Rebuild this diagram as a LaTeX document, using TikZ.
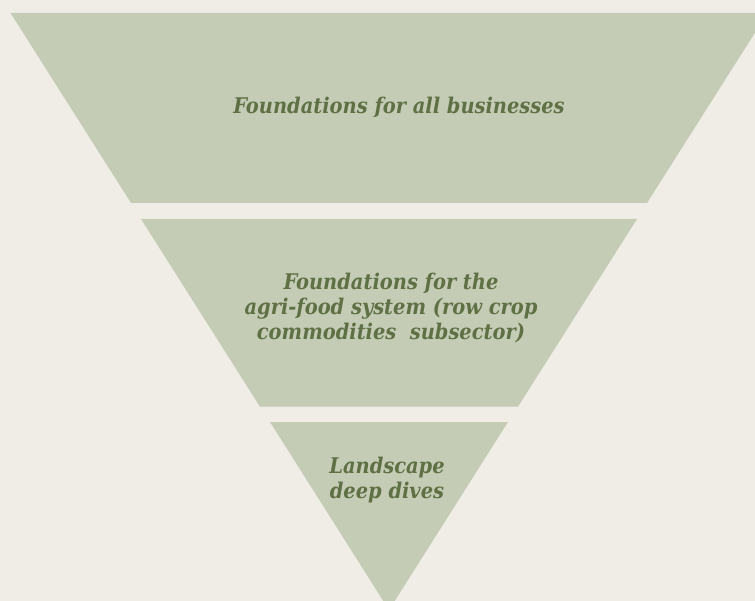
\documentclass[tikz,border=0pt]{standalone}
\usepackage{fontspec}
\setmainfont{DejaVu Serif Condensed}
\definecolor{bgc}{HTML}{F0EDE7}
\definecolor{bandc}{HTML}{C4CCB6}
\definecolor{txtc}{HTML}{5F7045}
\tikzset{
  band/.style={fill=bandc, draw=none},
  label/.style={text=txtc, font=\fontsize{21.6}{25}\selectfont\bfseries\itshape, align=center, inner sep=0pt}
}
\begin{document}
\begin{tikzpicture}[x=1pt,y=-1pt]
\useasboundingbox (0,0) rectangle (755,601);
\fill[bgc] (0,0) rectangle (755,601);
\clip (0,0) rectangle (755,601);
\coordinate (apex) at (389,610);
% top band
\path[band] (10.5,13) -- (767.5,13) -- (647,203) -- (131,203) -- cycle;
% middle band
\path[band] (141,219) -- (637,219) -- (518,406.7) -- (260,406.7) -- cycle;
% bottom band
\path[band] (270,422) -- (508,422) -- (apex) -- cycle;
\node[label, anchor=base] (t1) at (399,114) {Foundations for all businesses};
\node[label, anchor=base] (t2) at (391,340) {Foundations for the\\agri-food system (row crop\\commodities\ \ subsector)};
\node[label, anchor=base] (t3) at (387,498) {Landscape\\deep dives};
\end{tikzpicture}
\end{document}
